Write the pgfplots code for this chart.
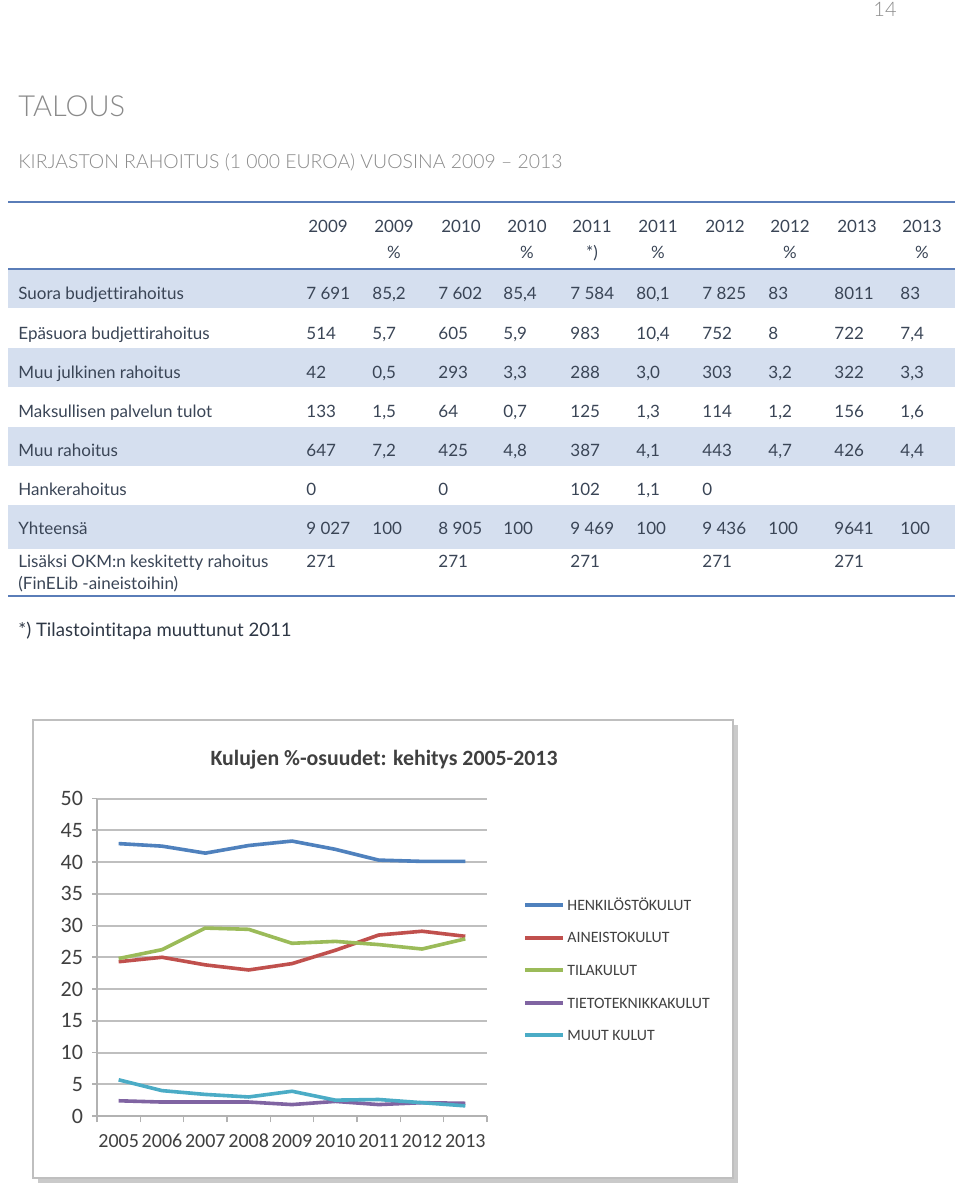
\documentclass[border=0pt]{standalone}
\usepackage{pgfplots}
\pgfplotsset{compat=1.18}
\usepackage{fontspec}
\setmainfont{Lato}[Ligatures={TeX,NoCommon}]
\newfontfamily\lightfont{Lato Light}[Ligatures={TeX,NoCommon}]
\newfontfamily\chartfont{Carlito}
\usetikzlibrary{shadows}
\definecolor{tabtext}{HTML}{3A4556}
\definecolor{band}{HTML}{D5DFEF}
\definecolor{rulec}{HTML}{5A7DB8}
\definecolor{headgray}{HTML}{8A8A8A}
\definecolor{cA}{HTML}{4F81BD}
\definecolor{cB}{HTML}{C0504D}
\definecolor{cC}{HTML}{9BBB59}
\definecolor{cD}{HTML}{8064A2}
\definecolor{cE}{HTML}{4BACC6}
\definecolor{chtext}{HTML}{404040}
\newcommand\trow[3]{%
  \node[anchor=base west] at (18,#1) {#2};
  \foreach \v [count=\i from 0] in {#3} {%
    \pgfmathsetmacro\xx{{306,372,438,503,570,636,702,768,834,900}[\i]}%
    \node[anchor=base west] at (\xx,#1) {\v};
  }%
}
\begin{document}
\begin{tikzpicture}
\begin{scope}[x=0.5pt,y=-0.5pt]
\useasboundingbox (0,0) rectangle (960,1188);
% page number
\node[font=\lightfont\fontsize{10}{12}\selectfont, text=headgray, anchor=base] at (885,17) {14};
% headings
\node[anchor=base west, font=\lightfont\fontsize{14.5}{16}\selectfont, text=headgray, inner sep=0pt] at (18,117) {TALOUS};
\node[anchor=base west, font=\lightfont\fontsize{9.7}{11}\selectfont, text=headgray, inner sep=0pt] at (18,169) {KIRJASTON RAHOITUS (1 000 EUROA) VUOSINA 2009 -- 2013};
% table bands
\fill[band] (8,269) rectangle (955,308);
\fill[band] (8,348) rectangle (955,387);
\fill[band] (8,427) rectangle (955,466);
\fill[band] (8,505) rectangle (955,549);
\draw[rulec, line width=1pt] (8,202) -- (955,202);
\draw[rulec, line width=1pt] (8,268.5) -- (955,268.5);
\draw[rulec, line width=1pt] (8,596) -- (955,596);
\begin{scope}[every node/.style={inner sep=0pt, text=tabtext, font=\fontsize{8.5}{10}\selectfont}]
% header
\foreach \x/\a/\b in {328/2009/, 394/2009/\%, 461/2010/, 527/2010/\%, 592/2011/*), 658/2011/\%, 725/2012/, 790/2012/\%, 857/2013/, 922/2013/\%} {
  \node[anchor=base] at (\x,232) {\a};
  \node[anchor=base] at (\x,258) {\b};
}
\trow{299}{Suora budjettirahoitus}{7 691,{85,2},7 602,{85,4},7 584,{80,1},7 825,83,8011,83}
\trow{339}{Epäsuora budjettirahoitus}{514,{5,7},605,{5,9},983,{10,4},752,8,722,{7,4}}
\trow{378}{Muu julkinen rahoitus}{42,{0,5},293,{3,3},288,{3,0},303,{3,2},322,{3,3}}
\trow{417}{Maksullisen palvelun tulot}{133,{1,5},64,{0,7},125,{1,3},114,{1,2},156,{1,6}}
\trow{456}{Muu rahoitus}{647,{7,2},425,{4,8},387,{4,1},443,{4,7},426,{4,4}}
\trow{495}{Hankerahoitus}{0,{},0,{},102,{1,1},0,{},{},{}}
\trow{534}{Yhteensä}{9 027,100,8 905,100,9 469,100,9 436,100,9641,100}
\trow{567}{Lisäksi OKM:n keskitetty rahoitus}{271,{},271,{},271,{},271,{},271,{}}
\node[anchor=base west] at (18,589) {(FinELib -aineistoihin)};
\end{scope}
\node[anchor=base west, inner sep=0pt, font=\fontsize{9.3}{11}\selectfont, text=tabtext!80!black] at (18,636) {*) Tilastointitapa muuttunut 2011};
% chart frame
\draw[gray!50, line width=1pt, fill=white, drop shadow={shadow xshift=2.5pt, shadow yshift=-2.5pt, fill=gray!70, opacity=0.6}] (33,720) rectangle (733,1178);
\node[font=\chartfont\bfseries\fontsize{10.9}{12}\selectfont, text=chtext] at (384,760) {Kulujen \%-osuudet: kehitys 2005-2013};
\end{scope}
\begin{axis}[
  at={(48.5pt,-558pt)}, anchor=south west,
  scale only axis, width=195pt, height=158.75pt,
  xmin=-0.5, xmax=8.5, ymin=0, ymax=50,
  axis x line*=bottom, axis y line*=left,
  axis line style={gray!60, line width=0.8pt, -},
  ymajorgrids, grid style={gray!50, line width=1pt},
  ytick={0,5,...,50},
  xtick={0,...,8},
  xticklabels={2005,2006,2007,2008,2009,2010,2011,2012,2013},
  minor xtick={-0.5,0.5,...,8.5},
  major x tick style={draw=none},
  tick align=outside,
  major tick length=2.5pt, minor tick length=3pt,
  tick style={gray!60, line width=0.8pt},
  /pgf/number format/assume math mode=true,
  yticklabel style={font=\chartfont\fontsize{11}{12}\selectfont, text=chtext, xshift=-1pt},
  xticklabel style={font=\chartfont\fontsize{10}{12}\selectfont, text=chtext, yshift=-3pt},
  legend style={at={(1.077,0.701)}, anchor=north west, draw=none, fill=none,
    font=\chartfont\fontsize{7.9}{9}\selectfont, text=chtext,
    nodes={inner sep=1pt, text height=5.2pt, text depth=0pt}, row sep=9.1pt},
  legend cell align=left,
  legend image code/.code={\draw[line width=2pt] (0pt,0pt) -- (19pt,0pt);},
  every axis plot/.append style={line width=1.8pt, no markers},
]
\addplot[cA] coordinates {(0,42.9) (1,42.5) (2,41.4) (3,42.6) (4,43.3) (5,42.0) (6,40.3) (7,40.1) (8,40.1)};
\addplot[cB] coordinates {(0,24.3) (1,25.0) (2,23.8) (3,23.0) (4,24.0) (5,26.1) (6,28.5) (7,29.1) (8,28.3)};
\addplot[cC] coordinates {(0,24.8) (1,26.2) (2,29.6) (3,29.4) (4,27.2) (5,27.5) (6,27.0) (7,26.3) (8,27.9)};
\addplot[cD] coordinates {(0,2.4) (1,2.2) (2,2.2) (3,2.2) (4,1.8) (5,2.3) (6,1.8) (7,2.1) (8,2.0)};
\addplot[cE] coordinates {(0,5.7) (1,4.0) (2,3.4) (3,3.0) (4,3.9) (5,2.5) (6,2.6) (7,2.1) (8,1.6)};
\legend{HENKILÖSTÖKULUT,AINEISTOKULUT,TILAKULUT,TIETOTEKNIKKAKULUT,MUUT KULUT}
\end{axis}
\end{tikzpicture}
\end{document}
